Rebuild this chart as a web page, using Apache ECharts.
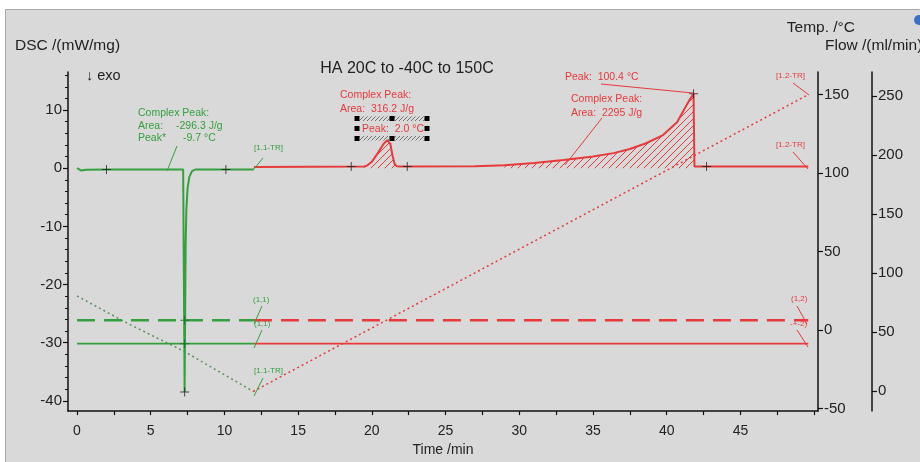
<!DOCTYPE html>
<html>
<head>
<meta charset="utf-8">
<script src="https://cdn.jsdelivr.net/npm/echarts@6/dist/echarts.min.js"></script>
<style>
  html, body { margin: 0; padding: 0; background: #fff; }
  #chart { width: 920px; height: 462px; }
</style>
</head>
<body>
<div id="chart"></div>
<script>
// tick values
const timeLabels = [0, 5, 10, 15, 20, 25, 30, 35, 40, 45];
const timeTicks = [0, 2.5, 5, 7.5, 10, 12.5, 15, 17.5, 20, 22.5, 25, 27.5, 30, 32.5, 35, 37.5, 40, 42.5, 45, 47.5, 50];
const dscLabels = [-40, -30, -20, -10, 0, 10];
const dscMinor = [-40, -38, -36, -34, -32, -30, -28, -26, -24, -22, -20, -18, -16, -14, -12, -10, -8, -6, -4, -2, 0, 2, 4, 6, 8, 10, 12, 14, 16];
const tempLabels = [-50, 0, 50, 100, 150];
const flowLabels = [0, 50, 100, 150, 200, 250];

// DSC, segment 1 (cooling 20 -> -40 C), [time min, mW/mg]
const dscCool = [
  [0, 0], [0.15, -0.2], [0.3, -0.4], [0.6, -0.25], [2, -0.2], [5, -0.2], [7.2, -0.2],
  [7.28, -0.4], [7.3, -38.5], [7.34, -24], [7.37, -13], [7.42, -7], [7.5, -3.5],
  [7.62, -1.5], [7.8, -0.5], [8.05, -0.2], [10, -0.2], [12, -0.2]
];
// DSC, segment 2 (heating -40 -> 150 C)
const dscHeat = [
  [12, 0.2], [19.5, 0.3], [19.7, 0.5], [20.0, 1.1], [20.4, 2.6], [20.8, 4.2], [21.05, 4.8],
  [21.25, 4.2], [21.4, 2.2], [21.55, 0.7], [21.7, 0.35], [21.9, 0.3], [27, 0.35],
  [29, 0.5], [31, 0.9], [33, 1.4], [35, 2.0], [36.4, 2.6], [37.5, 3.3], [38.6, 4.3],
  [39.75, 5.7], [40.7, 7.9], [41.2, 10.2], [41.6, 12.0], [41.82, 12.8], [41.88, 0.3], [49.6, 0.3]
];
// temperature program, [time, degC]
const tempCool = [[0, 21.8], [3.5, 4.0], [7.3, -13.6], [11.95, -39]];
const tempHeat = [[11.95, -39], [49.6, 150]];
// gas flows, [time, ml/min]
const purgeCool = [[0, 60], [12, 60]];
const purgeHeat = [[12, 60], [49.6, 60]];
const protCool = [[0, 40], [12, 40]];
const protHeat = [[12, 40], [49.6, 40]];
// evaluation markers
const dscMarks = [[2.0, -0.2], [10.1, -0.2], [7.3, -38.5], [18.6, 0.3], [22.4, 0.3], [41.82, 12.8], [42.7, 0.3]];
const flowMarks = [[7.3, 60], [7.3, 40]];
// integration ranges (min)
const peak1Range = [19.5, 21.9];
const peak2Range = [28.9, 41.88];

const GREEN = '#35a040';
const RED = '#e8393b';
const FONT = 'Liberation Sans, Arial, sans-serif';

function hatch(color, step, w) {
  const c = document.createElement('canvas');
  c.width = c.height = step;
  const g = c.getContext('2d');
  g.strokeStyle = color;
  g.lineWidth = w;
  g.beginPath();
  g.moveTo(-1, step + 1); g.lineTo(step + 1, -1);
  g.moveTo(-1, 1); g.lineTo(1, -1);
  g.moveTo(step - 1, step + 1); g.lineTo(step + 1, step - 1);
  g.stroke();
  return c;
}

const inRange = (r) => dscHeat.filter(p => p[0] >= r[0] && p[0] <= r[1]);
const redHatch = { image: hatch(RED, 7, 1), repeat: 'repeat' };
const boxHatch = { image: hatch('#555', 4, 0.8), repeat: 'repeat' };

const chart = echarts.init(document.getElementById('chart'));

function axisBase(extra) {
  return Object.assign({
    type: 'value',
    splitLine: { show: false },
    axisLine: { show: true, onZero: false, lineStyle: { color: '#111', width: 1.5 } },
    axisTick: { show: true, length: 5, lineStyle: { color: '#111', width: 1.2 } },
    axisLabel: { color: '#222', fontSize: 15, fontFamily: FONT }
  }, extra);
}

function txt(text, x, y, color, size, align) {
  return {
    type: 'text', z: 100,
    style: { text: text, x: x, y: y, fill: color, font: size + 'px ' + FONT, textAlign: align || 'left', textVerticalAlign: 'middle' }
  };
}
function lead(x1, y1, x2, y2, color) {
  return { type: 'line', z: 100, shape: { x1: x1, y1: y1, x2: x2, y2: y2 }, style: { stroke: color, lineWidth: 1 } };
}
function handle(x, y) {
  return { type: 'rect', z: 101, shape: { x: x - 2.5, y: y - 2.5, width: 5, height: 5 }, style: { fill: '#000' } };
}

const plus = 'path://M4,0h1v4h4v1h-4v4h-1v-4h-4v-1h4z';

chart.setOption({
  animation: false,
  backgroundColor: '#d9d9d9',
  grid: { left: 68, right: 102, top: 72, bottom: 45 },
  xAxis: axisBase({
    min: -0.61, max: 50.26,
    axisTick: { show: true, length: 4, customValues: timeTicks, lineStyle: { color: '#111', width: 1.2 } },
    axisLabel: { customValues: timeLabels, color: '#222', fontSize: 14, fontFamily: FONT, margin: 13 },
    name: 'Time /min', nameLocation: 'middle', nameGap: 31,
    nameTextStyle: { color: '#222', fontSize: 14, fontFamily: FONT }
  }),
  yAxis: [
    axisBase({
      position: 'left', min: -41.77, max: 16.55,
      axisTick: { show: true, length: 5, customValues: dscLabels, lineStyle: { color: '#111', width: 1.2 } },
      axisLabel: { customValues: dscLabels, color: '#222', fontSize: 15, fontFamily: FONT, margin: 6 }
    }),
    axisBase({
      position: 'right', min: -51.5, max: 164.4,
      axisTick: { show: true, length: 5, customValues: tempLabels, lineStyle: { color: '#111', width: 1.2 } },
      axisLabel: { customValues: tempLabels, color: '#222', fontSize: 15, fontFamily: FONT, margin: 6 }
    }),
    axisBase({
      position: 'right', offset: 54, min: -17.2, max: 270.6,
      axisTick: { show: true, length: 5, customValues: flowLabels, lineStyle: { color: '#111', width: 1.2 } },
      axisLabel: { customValues: flowLabels, color: '#222', fontSize: 15, fontFamily: FONT, margin: 6 }
    }),
    axisBase({
      position: 'left', min: -41.77, max: 16.55,
      axisLine: { show: false, onZero: false },
      axisTick: { show: true, length: 3, customValues: dscMinor, lineStyle: { color: '#111', width: 1 } },
      axisLabel: { show: false }
    })
  ],
  series: [
    { type: 'line', yAxisIndex: 1, data: tempCool, symbol: 'none', z: 2,
      lineStyle: { color: '#5f915f', width: 1.5, type: [2, 3] } },
    { type: 'line', yAxisIndex: 1, data: tempHeat, symbol: 'none', z: 2,
      lineStyle: { color: RED, width: 1.5, type: [2, 3] } },
    { type: 'line', yAxisIndex: 2, data: purgeCool, symbol: 'none', z: 3,
      lineStyle: { color: GREEN, width: 2.5, type: [18, 9] } },
    { type: 'line', yAxisIndex: 2, data: purgeHeat, symbol: 'none', z: 3,
      lineStyle: { color: RED, width: 2.5, type: [18, 9] } },
    { type: 'line', yAxisIndex: 2, data: protCool, symbol: 'none', z: 3,
      lineStyle: { color: GREEN, width: 1.8 } },
    { type: 'line', yAxisIndex: 2, data: protHeat, symbol: 'none', z: 3,
      lineStyle: { color: RED, width: 1.8 } },
    { type: 'line', yAxisIndex: 0, data: inRange(peak1Range), symbol: 'none', z: 4,
      lineStyle: { width: 0 }, areaStyle: { color: redHatch, opacity: 1, origin: 0 } },
    { type: 'line', yAxisIndex: 0, data: inRange(peak2Range), symbol: 'none', z: 4,
      lineStyle: { width: 0 }, areaStyle: { color: redHatch, opacity: 1, origin: 0 } },
    { type: 'line', yAxisIndex: 0, data: dscCool, symbol: 'none', z: 5,
      lineStyle: { color: GREEN, width: 2 } },
    { type: 'line', yAxisIndex: 0, data: dscHeat, symbol: 'none', z: 5,
      lineStyle: { color: RED, width: 2 } },
    { type: 'scatter', yAxisIndex: 0, data: dscMarks, symbol: plus, symbolSize: 9, z: 6,
      itemStyle: { color: '#222' } },
    { type: 'scatter', yAxisIndex: 2, data: flowMarks, symbol: plus, symbolSize: 9, z: 6,
      itemStyle: { color: '#1d6a28' } }
  ],
  graphic: [
    // frame
    { type: 'rect', z: 90, shape: { x: 0, y: 0, width: 920, height: 9 }, style: { fill: '#fff' } },
    { type: 'rect', z: 90, shape: { x: 0, y: 0, width: 5, height: 462 }, style: { fill: '#fff' } },
    { type: 'line', z: 91, shape: { x1: 5.5, y1: 9.5, x2: 920, y2: 9.5 }, style: { stroke: '#a8a8a8', lineWidth: 1 } },
    { type: 'line', z: 91, shape: { x1: 5.5, y1: 9.5, x2: 5.5, y2: 462 }, style: { stroke: '#a8a8a8', lineWidth: 1 } },
    { type: 'circle', z: 92, shape: { cx: 919, cy: 20, r: 5 }, style: { fill: '#3d6fc4' } },
    // axis titles
    txt('DSC /(mW/mg)', 15, 46, '#222', 15.5),
    txt('↓ exo', 86, 76, '#222', 14.5),
    txt('Temp. /°C', 855, 28, '#222', 15.5, 'right'),
    txt('Flow /(ml/min)', 825, 46, '#222', 15.5),
    txt('HA 20C to -40C to 150C', 407, 69, '#222', 16, 'center'),
    // green annotations
    txt('Complex Peak:', 138, 113, GREEN, 10.5),
    txt('Area:', 138, 126.5, GREEN, 10.5),
    txt('-296.3 J/g', 176, 126.5, GREEN, 10.5),
    txt('Peak*', 138, 138.5, GREEN, 10.5),
    txt('-9.7 °C', 183, 138.5, GREEN, 10.5),
    lead(177, 146, 167, 171, GREEN),
    txt('[1.1-TR]', 254, 148, GREEN, 8),
    lead(263, 158, 254, 169, GREEN),
    txt('(1,1)', 253, 300, GREEN, 8),
    lead(262, 306, 254, 324, GREEN),
    txt('(1,1)', 254, 324, GREEN, 8),
    lead(262, 330, 254, 348, GREEN),
    txt('[1.1-TR]', 254, 371, GREEN, 8),
    lead(263, 378, 254, 396, GREEN),
    // red annotations
    txt('Complex Peak:', 340, 95, RED, 10.5),
    txt('Area:  316.2 J/g', 340, 109, RED, 10.5),
    { type: 'rect', z: 100, shape: { x: 357, y: 116.5, width: 70, height: 4.5 }, style: { fill: boxHatch } },
    { type: 'rect', z: 100, shape: { x: 357, y: 136, width: 70, height: 4.5 }, style: { fill: boxHatch } },
    handle(357, 118.5), handle(392, 118.5), handle(427, 118.5),
    handle(357, 128.5), handle(427, 128.5),
    handle(357, 138.5), handle(392, 138.5), handle(427, 138.5),
    txt('Peak:  2.0 °C', 362, 129, RED, 10.5),
    txt('Peak:  100.4 °C', 565, 77, RED, 10.5),
    lead(601, 84, 693, 93, RED),
    txt('Complex Peak:', 571, 99, RED, 10.5),
    txt('Area:  2295 J/g', 571, 113, RED, 10.5),
    lead(602, 118, 565, 165, RED),
    txt('[1.2-TR]', 776, 76, RED, 8),
    lead(793, 83, 809, 95, RED),
    txt('[1.2-TR]', 776, 145, RED, 8),
    lead(793, 152, 808, 169, RED),
    txt('(1,2)', 791, 299, RED, 8),
    lead(797, 306, 807, 324, RED),
    txt('-+-2)', 790, 324, RED, 8),
    lead(797, 330, 808, 347, RED)
  ]
});
</script>
</body>
</html>
